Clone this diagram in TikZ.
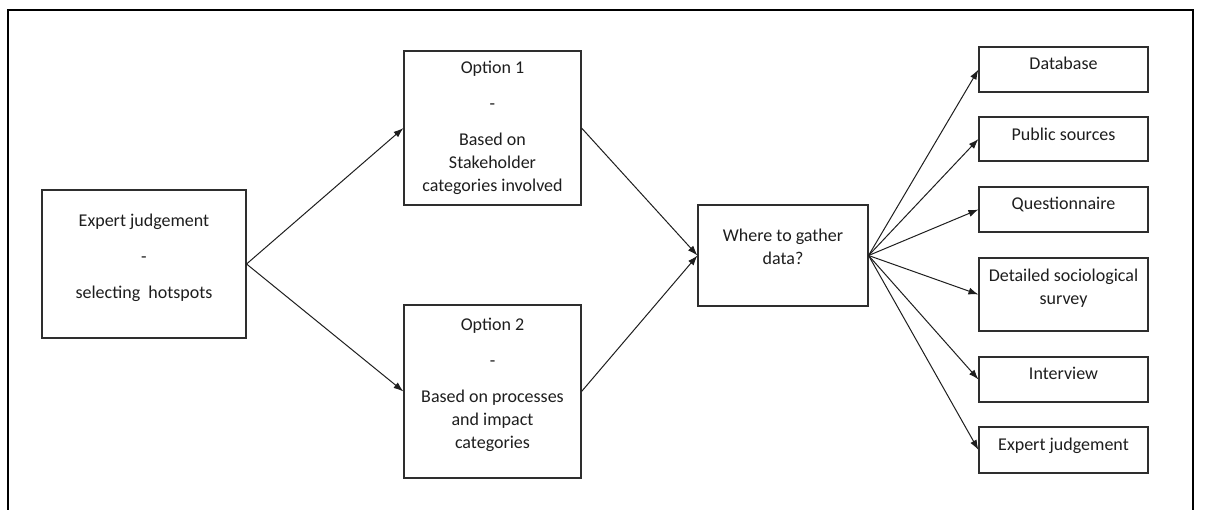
\documentclass[tikz,border=0pt]{standalone}
\usepackage{fontspec}
\setmainfont{Carlito}
\usetikzlibrary{arrows.meta}
\definecolor{ink}{HTML}{1E1E1E}
\definecolor{edge}{HTML}{2E2E2E}
\tikzset{
  box/.style={draw=edge, line width=1.1pt, rectangle, inner sep=0pt, fill=white},
  txt/.style={text=ink, align=center, inner sep=0pt, font=\fontsize{18}{23}\selectfont},
  conn/.style={draw=ink, line width=1pt, -{Latex[length=10pt,width=7pt]}},
  frame/.style={draw=black, line width=2pt}
}
\begin{document}
\begin{tikzpicture}[x=1pt,y=-1pt]
\useasboundingbox (0,0) rectangle (1226,509);
% outer frame
\coordinate (fbl) at (8,512);
\coordinate (ftl) at (8,10);
\coordinate (ftr) at (1193,10);
\coordinate (fbr) at (1193,512);
\draw[frame] (fbl) -- (ftl) -- (ftr) -- (fbr);

% boxes
\node[box, minimum width=204pt, minimum height=148pt] (ej) at (144,264) {};
\node[box, minimum width=177pt, minimum height=154pt] (opt1) at (492.5,128) {};
\node[box, minimum width=177pt, minimum height=173pt] (opt2) at (492.5,391.5) {};
\node[box, minimum width=170pt, minimum height=101pt] (where) at (783,255.5) {};
\node[box, minimum width=169pt, minimum height=45pt] (db) at (1063.5,69.5) {};
\node[box, minimum width=169pt, minimum height=44pt] (pub) at (1063.5,139) {};
\node[box, minimum width=169pt, minimum height=45pt] (quest) at (1063.5,209.5) {};
\node[box, minimum width=169pt, minimum height=73pt] (det) at (1063.5,294.5) {};
\node[box, minimum width=169pt, minimum height=45pt] (inter) at (1063.5,379.5) {};
\node[box, minimum width=169pt, minimum height=46pt] (expj) at (1063.5,450) {};

% texts
\node[txt] (ejt) at (144,257.5) {\strut Expert judgement\\[13pt]\strut -\\[13pt]\strut selecting~ hotspots};
\node[txt] (opt1t) at (492.5,128) {\strut Option 1\\[13pt]\strut -\\[13pt]\strut Based on\\\strut Stakeholder\\\strut categories involved};
\node[txt] (opt2t) at (492.5,384.5) {\strut Option 2\\[13pt]\strut -\\[13pt]\strut Based on processes\\\strut and impact\\\strut categories};
\node[txt] (wheret) at (783,248) {\strut Where to gather\\\strut data?};
\node[txt] (dbt) at (1063.5,64.5) {\strut Database};
\node[txt] (pubt) at (1063.5,135.5) {\strut Public sources};
\node[txt] (questt) at (1063.5,204.5) {\strut Questionnaire};
\node[txt] (dett) at (1063.5,288.5) {\strut Detailed sociological\\\strut survey};
\node[txt] (intert) at (1063.5,374.5) {\strut Interview};
\node[txt] (expjt) at (1063.5,445.5) {\strut Expert judgement};

% connectors
\draw[conn] (ej.east) -- (opt1.west);
\draw[conn] (ej.east) -- (opt2.west);
\draw[conn] (opt1.east) -- (where.west);
\draw[conn] (opt2.east) -- (where.west);
\draw[conn] (where.east) -- (db.west);
\draw[conn] (where.east) -- (pub.west);
\draw[conn] (where.east) -- (quest.west);
\draw[conn] (where.east) -- (det.west);
\draw[conn] (where.east) -- (inter.west);
\draw[conn] (where.east) -- (expj.west);
\end{tikzpicture}
\end{document}
